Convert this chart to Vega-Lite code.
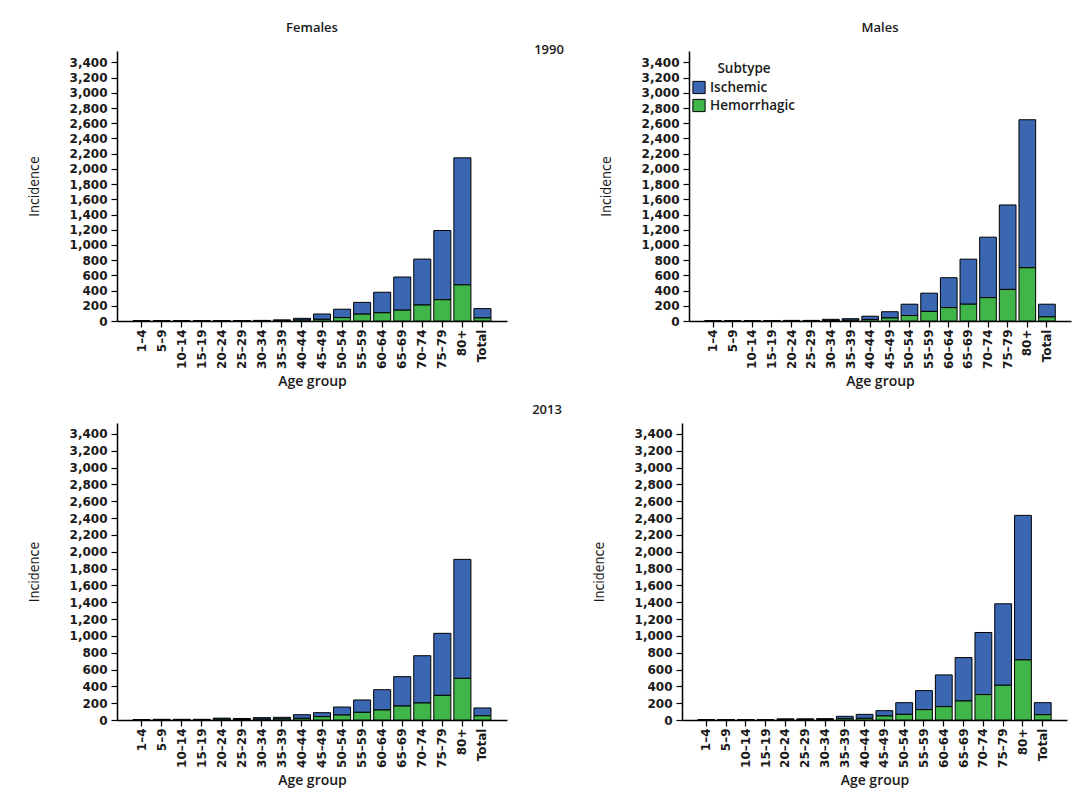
{
  "$schema": "https://vega.github.io/schema/vega-lite/v6.json",
  "padding": {"left": 27, "top": 22, "right": 5, "bottom": 5},
  "background": "white",
  "config": {
    "font": "Open Sans",
    "view": {"stroke": null},
    "axis": {
      "grid": false,
      "domainColor": "#000",
      "domainWidth": 1.5,
      "tickColor": "#000",
      "tickWidth": 1.2,
      "tickSize": 6,
      "labelColor": "#1a1a1a",
      "labelFont": "DejaVu Sans",
      "labelFontWeight": "bold",
      "titleColor": "#1a1a1a",
      "titleFont": "Open Sans"
    },
    "axisX": {"labelFontSize": 12, "labelPadding": 2, "titleFontSize": 14, "titleFontWeight": 600, "titlePadding": 6},
    "axisY": {"labelFontSize": 12, "labelPadding": 4, "titleFontSize": 14, "titleFontWeight": "normal", "titleFont": "Liberation Sans Narrow, DejaVu Sans Condensed, Open Sans", "titlePadding": 28},
    "title": {"fontSize": 13, "fontWeight": 600, "color": "#1a1a1a", "anchor": "middle", "font": "Open Sans"},
    "legend": {
      "orient": "none",
      "legendX": 575,
      "legendY": 11,
      "titleFontSize": 13.5,
      "titleFontWeight": 600,
      "titleColor": "#1a1a1a",
      "titleAnchor": "middle",
      "titlePadding": 5,
      "labelFontSize": 13.5,
      "labelFontWeight": 600,
      "labelColor": "#1a1a1a",
      "symbolType": "square",
      "symbolSize": 150,
      "symbolStrokeColor": "#000",
      "symbolStrokeWidth": 1,
      "rowPadding": 0
    }
  },
  "data": {
    "values": [
      {"sex": "Females", "year": 1990, "age": "1–4", "Ischemic": 2, "Hemorrhagic": 1},
      {"sex": "Females", "year": 1990, "age": "5–9", "Ischemic": 2, "Hemorrhagic": 1},
      {"sex": "Females", "year": 1990, "age": "10–14", "Ischemic": 2, "Hemorrhagic": 1},
      {"sex": "Females", "year": 1990, "age": "15–19", "Ischemic": 2, "Hemorrhagic": 2},
      {"sex": "Females", "year": 1990, "age": "20–24", "Ischemic": 3, "Hemorrhagic": 3},
      {"sex": "Females", "year": 1990, "age": "25–29", "Ischemic": 3, "Hemorrhagic": 3},
      {"sex": "Females", "year": 1990, "age": "30–34", "Ischemic": 4, "Hemorrhagic": 4},
      {"sex": "Females", "year": 1990, "age": "35–39", "Ischemic": 9, "Hemorrhagic": 6},
      {"sex": "Females", "year": 1990, "age": "40–44", "Ischemic": 23, "Hemorrhagic": 12},
      {"sex": "Females", "year": 1990, "age": "45–49", "Ischemic": 70, "Hemorrhagic": 22},
      {"sex": "Females", "year": 1990, "age": "50–54", "Ischemic": 110, "Hemorrhagic": 45},
      {"sex": "Females", "year": 1990, "age": "55–59", "Ischemic": 155, "Hemorrhagic": 90},
      {"sex": "Females", "year": 1990, "age": "60–64", "Ischemic": 270, "Hemorrhagic": 108},
      {"sex": "Females", "year": 1990, "age": "65–69", "Ischemic": 436, "Hemorrhagic": 142},
      {"sex": "Females", "year": 1990, "age": "70–74", "Ischemic": 604, "Hemorrhagic": 210},
      {"sex": "Females", "year": 1990, "age": "75–79", "Ischemic": 910, "Hemorrhagic": 280},
      {"sex": "Females", "year": 1990, "age": "80+", "Ischemic": 1670, "Hemorrhagic": 475},
      {"sex": "Females", "year": 1990, "age": "Total", "Ischemic": 123, "Hemorrhagic": 40},
      {"sex": "Males", "year": 1990, "age": "1–4", "Ischemic": 2, "Hemorrhagic": 1},
      {"sex": "Males", "year": 1990, "age": "5–9", "Ischemic": 2, "Hemorrhagic": 1},
      {"sex": "Males", "year": 1990, "age": "10–14", "Ischemic": 2, "Hemorrhagic": 1},
      {"sex": "Males", "year": 1990, "age": "15–19", "Ischemic": 3, "Hemorrhagic": 2},
      {"sex": "Males", "year": 1990, "age": "20–24", "Ischemic": 4, "Hemorrhagic": 4},
      {"sex": "Males", "year": 1990, "age": "25–29", "Ischemic": 5, "Hemorrhagic": 3},
      {"sex": "Males", "year": 1990, "age": "30–34", "Ischemic": 14, "Hemorrhagic": 8},
      {"sex": "Males", "year": 1990, "age": "35–39", "Ischemic": 20, "Hemorrhagic": 10},
      {"sex": "Males", "year": 1990, "age": "40–44", "Ischemic": 43, "Hemorrhagic": 20},
      {"sex": "Males", "year": 1990, "age": "45–49", "Ischemic": 82, "Hemorrhagic": 40},
      {"sex": "Males", "year": 1990, "age": "50–54", "Ischemic": 149, "Hemorrhagic": 72},
      {"sex": "Males", "year": 1990, "age": "55–59", "Ischemic": 240, "Hemorrhagic": 126},
      {"sex": "Males", "year": 1990, "age": "60–64", "Ischemic": 393, "Hemorrhagic": 176},
      {"sex": "Males", "year": 1990, "age": "65–69", "Ischemic": 592, "Hemorrhagic": 221},
      {"sex": "Males", "year": 1990, "age": "70–74", "Ischemic": 795, "Hemorrhagic": 307},
      {"sex": "Males", "year": 1990, "age": "75–79", "Ischemic": 1111, "Hemorrhagic": 415},
      {"sex": "Males", "year": 1990, "age": "80+", "Ischemic": 1946, "Hemorrhagic": 700},
      {"sex": "Males", "year": 1990, "age": "Total", "Ischemic": 167, "Hemorrhagic": 54},
      {"sex": "Females", "year": 2013, "age": "1–4", "Ischemic": 2, "Hemorrhagic": 4},
      {"sex": "Females", "year": 2013, "age": "5–9", "Ischemic": 5, "Hemorrhagic": 3},
      {"sex": "Females", "year": 2013, "age": "10–14", "Ischemic": 5, "Hemorrhagic": 3},
      {"sex": "Females", "year": 2013, "age": "15–19", "Ischemic": 5, "Hemorrhagic": 3},
      {"sex": "Females", "year": 2013, "age": "20–24", "Ischemic": 12, "Hemorrhagic": 10},
      {"sex": "Females", "year": 2013, "age": "25–29", "Ischemic": 12, "Hemorrhagic": 6},
      {"sex": "Females", "year": 2013, "age": "30–34", "Ischemic": 18, "Hemorrhagic": 10},
      {"sex": "Females", "year": 2013, "age": "35–39", "Ischemic": 20, "Hemorrhagic": 12},
      {"sex": "Females", "year": 2013, "age": "40–44", "Ischemic": 43, "Hemorrhagic": 20},
      {"sex": "Females", "year": 2013, "age": "45–49", "Ischemic": 47, "Hemorrhagic": 40},
      {"sex": "Females", "year": 2013, "age": "50–54", "Ischemic": 95, "Hemorrhagic": 59},
      {"sex": "Females", "year": 2013, "age": "55–59", "Ischemic": 147, "Hemorrhagic": 91},
      {"sex": "Females", "year": 2013, "age": "60–64", "Ischemic": 241, "Hemorrhagic": 119},
      {"sex": "Females", "year": 2013, "age": "65–69", "Ischemic": 349, "Hemorrhagic": 166},
      {"sex": "Females", "year": 2013, "age": "70–74", "Ischemic": 562, "Hemorrhagic": 202},
      {"sex": "Females", "year": 2013, "age": "75–79", "Ischemic": 737, "Hemorrhagic": 293},
      {"sex": "Females", "year": 2013, "age": "80+", "Ischemic": 1414, "Hemorrhagic": 495},
      {"sex": "Females", "year": 2013, "age": "Total", "Ischemic": 93, "Hemorrhagic": 50},
      {"sex": "Males", "year": 2013, "age": "1–4", "Ischemic": 2, "Hemorrhagic": 1},
      {"sex": "Males", "year": 2013, "age": "5–9", "Ischemic": 2, "Hemorrhagic": 1},
      {"sex": "Males", "year": 2013, "age": "10–14", "Ischemic": 2, "Hemorrhagic": 1},
      {"sex": "Males", "year": 2013, "age": "15–19", "Ischemic": 2, "Hemorrhagic": 1},
      {"sex": "Males", "year": 2013, "age": "20–24", "Ischemic": 9, "Hemorrhagic": 5},
      {"sex": "Males", "year": 2013, "age": "25–29", "Ischemic": 9, "Hemorrhagic": 5},
      {"sex": "Males", "year": 2013, "age": "30–34", "Ischemic": 10, "Hemorrhagic": 6},
      {"sex": "Males", "year": 2013, "age": "35–39", "Ischemic": 29, "Hemorrhagic": 15},
      {"sex": "Males", "year": 2013, "age": "40–44", "Ischemic": 47, "Hemorrhagic": 20},
      {"sex": "Males", "year": 2013, "age": "45–49", "Ischemic": 63, "Hemorrhagic": 48},
      {"sex": "Males", "year": 2013, "age": "50–54", "Ischemic": 139, "Hemorrhagic": 67},
      {"sex": "Males", "year": 2013, "age": "55–59", "Ischemic": 226, "Hemorrhagic": 123},
      {"sex": "Males", "year": 2013, "age": "60–64", "Ischemic": 377, "Hemorrhagic": 159},
      {"sex": "Males", "year": 2013, "age": "65–69", "Ischemic": 516, "Hemorrhagic": 226},
      {"sex": "Males", "year": 2013, "age": "70–74", "Ischemic": 738, "Hemorrhagic": 302},
      {"sex": "Males", "year": 2013, "age": "75–79", "Ischemic": 968, "Hemorrhagic": 413},
      {"sex": "Males", "year": 2013, "age": "80+", "Ischemic": 1718, "Hemorrhagic": 714},
      {"sex": "Males", "year": 2013, "age": "Total", "Ischemic": 143, "Hemorrhagic": 63}
    ]
  },
  "transform": [{"fold": ["Ischemic", "Hemorrhagic"], "as": ["subtype", "value"]}],
  "spacing": 15,
  "vconcat": [
    {
      "title": {"text": "1990", "offset": -35},
      "spacing": 92,
      "hconcat": [
        {
          "width": 390, "height": 270,
          "title": {"text": "Females", "offset": 16},
          "transform": [{"filter": "datum.sex === 'Females' && datum.year === 1990"}],
          "mark": {"type": "bar", "stroke": "#000", "strokeWidth": 1},
          "encoding": {
            "x": {"field": "age", "type": "nominal", "sort": ["1–4","5–9","10–14","15–19","20–24","25–29","30–34","35–39","40–44","45–49","50–54","55–59","60–64","65–69","70–74","75–79","80+","Total"], "scale": {"paddingInner": 0.15, "paddingOuter": 0.8}, "axis": {"title": "Age group", "labelAngle": -90}},
            "y": {"field": "value", "type": "quantitative", "stack": "zero", "scale": {"domain": [0, 3550], "nice": false}, "axis": {"title": "Incidence", "format": ",d", "values": [0,200,400,600,800,1000,1200,1400,1600,1800,2000,2200,2400,2600,2800,3000,3200,3400]}},
            "color": {"field": "subtype", "type": "nominal", "title": "Subtype", "scale": {"domain": ["Ischemic", "Hemorrhagic"], "range": ["#3a66b2", "#3fb54a"]}},
            "order": {"field": "subtype", "sort": "ascending"}
          }
        },
        {
          "width": 382, "height": 270,
          "title": {"text": "Males", "offset": 16},
          "transform": [{"filter": "datum.sex === 'Males' && datum.year === 1990"}],
          "mark": {"type": "bar", "stroke": "#000", "strokeWidth": 1},
          "encoding": {
            "x": {"field": "age", "type": "nominal", "sort": ["1–4","5–9","10–14","15–19","20–24","25–29","30–34","35–39","40–44","45–49","50–54","55–59","60–64","65–69","70–74","75–79","80+","Total"], "scale": {"paddingInner": 0.15, "paddingOuter": 0.8}, "axis": {"title": "Age group", "labelAngle": -90}},
            "y": {"field": "value", "type": "quantitative", "stack": "zero", "scale": {"domain": [0, 3550], "nice": false}, "axis": {"title": "Incidence", "format": ",d", "values": [0,200,400,600,800,1000,1200,1400,1600,1800,2000,2200,2400,2600,2800,3000,3200,3400]}},
            "color": {"field": "subtype", "type": "nominal", "title": "Subtype", "scale": {"domain": ["Ischemic", "Hemorrhagic"], "range": ["#3a66b2", "#3fb54a"]}},
            "order": {"field": "subtype", "sort": "ascending"}
          }
        }
      ]
    },
    {
      "title": {"text": "2013", "offset": 6},
      "spacing": 85,
      "hconcat": [
        {
          "width": 390, "height": 297,
          "transform": [{"filter": "datum.sex === 'Females' && datum.year === 2013"}],
          "mark": {"type": "bar", "stroke": "#000", "strokeWidth": 1},
          "encoding": {
            "x": {"field": "age", "type": "nominal", "sort": ["1–4","5–9","10–14","15–19","20–24","25–29","30–34","35–39","40–44","45–49","50–54","55–59","60–64","65–69","70–74","75–79","80+","Total"], "scale": {"paddingInner": 0.15, "paddingOuter": 0.8}, "axis": {"title": "Age group", "labelAngle": -90}},
            "y": {"field": "value", "type": "quantitative", "stack": "zero", "scale": {"domain": [0, 3530], "nice": false}, "axis": {"title": "Incidence", "format": ",d", "values": [0,200,400,600,800,1000,1200,1400,1600,1800,2000,2200,2400,2600,2800,3000,3200,3400]}},
            "color": {"field": "subtype", "type": "nominal", "title": "Subtype", "scale": {"domain": ["Ischemic", "Hemorrhagic"], "range": ["#3a66b2", "#3fb54a"]}},
            "order": {"field": "subtype", "sort": "ascending"}
          }
        },
        {
          "width": 385, "height": 297,
          "transform": [{"filter": "datum.sex === 'Males' && datum.year === 2013"}],
          "mark": {"type": "bar", "stroke": "#000", "strokeWidth": 1},
          "encoding": {
            "x": {"field": "age", "type": "nominal", "sort": ["1–4","5–9","10–14","15–19","20–24","25–29","30–34","35–39","40–44","45–49","50–54","55–59","60–64","65–69","70–74","75–79","80+","Total"], "scale": {"paddingInner": 0.15, "paddingOuter": 0.8}, "axis": {"title": "Age group", "labelAngle": -90}},
            "y": {"field": "value", "type": "quantitative", "stack": "zero", "scale": {"domain": [0, 3530], "nice": false}, "axis": {"title": "Incidence", "format": ",d", "values": [0,200,400,600,800,1000,1200,1400,1600,1800,2000,2200,2400,2600,2800,3000,3200,3400]}},
            "color": {"field": "subtype", "type": "nominal", "title": "Subtype", "scale": {"domain": ["Ischemic", "Hemorrhagic"], "range": ["#3a66b2", "#3fb54a"]}},
            "order": {"field": "subtype", "sort": "ascending"}
          }
        }
      ]
    }
  ]
}
